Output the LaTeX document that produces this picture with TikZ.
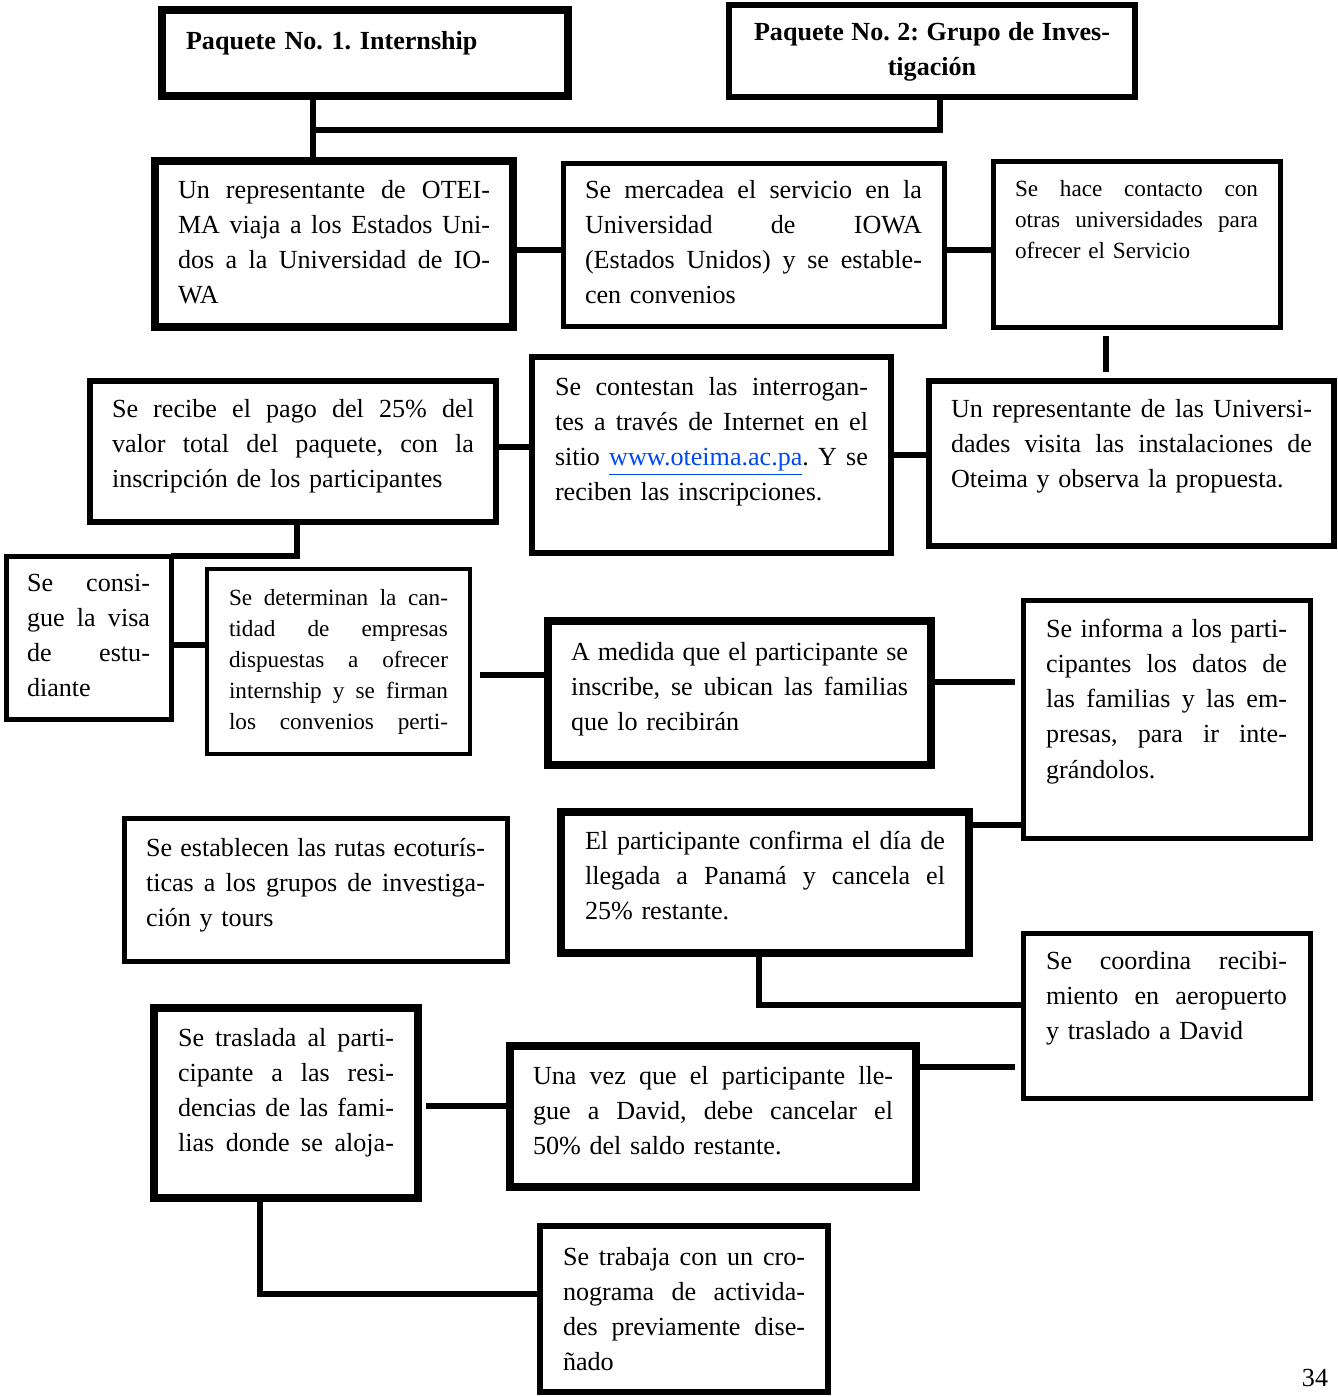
\documentclass[tikz,border=0pt]{standalone}
\usepackage{fontspec}
\setmainfont{Liberation Serif}
\frenchspacing

\definecolor{linkblue}{RGB}{0,72,240}

% text sizes
\newcommand\stepfont{\fontsize{13.05}{17.65}\selectfont}
\newcommand\smallstepfont{\fontsize{11.6}{15.6}\selectfont}

% one line of a box: justified, last, centred
\newcommand\fullln[1]{\hbox to\hsize{\spaceskip=0.25em plus 0.8em minus 0.08em\relax#1}\par}
\newcommand\lastln[1]{\hbox{#1}\par}
\newcommand\centln[1]{\hbox to\hsize{\hfil#1\hfil}\par}

\tikzset{
  stepbox/.style={draw, line width=3pt, anchor=north west, outer sep=0pt,
    inner ysep=0pt, font=\stepfont},
  heavyline/.style={line width=4pt},
  lightline/.style={line width=2.5pt},
  slimline/.style={line width=2pt},
  joinline/.style={line width=3pt},
}

\begin{document}
\begin{tikzpicture}[x=0.5pt, y=-0.5pt]
    \useasboundingbox (0,0) rectangle (1338,1397);

    % The two packages
    \node[stepbox, heavyline, inner xsep=12pt, text width=179pt, text height=19.5pt, text depth=23.5pt, font=\stepfont\bfseries] (pack1) at (162,10)
        {\lastln{Paquete No. 1. Internship}};
    \node[stepbox, inner xsep=12.5pt, text width=178pt, text height=17.5pt, text depth=28.5pt, font=\stepfont\bfseries] (pack2) at (729,5)
        {\fullln{Paquete No. 2: Grupo de Inves-}\centln{tigación}};

    % First row
    \node[stepbox, heavyline, inner xsep=11.5pt, text width=156pt, text height=18.5pt, text depth=64.5pt] (repA) at (155,161)
        {\fullln{Un representante de OTEI-}\fullln{MA viaja a los Estados Uni-}\fullln{dos a la Universidad de IO-}\lastln{WA}};
    \node[stepbox, lightline, inner xsep=11pt, text width=168.5pt, text height=17.5pt, text depth=64pt] (market) at (563,163)
        {\fullln{Se mercadea el servicio en la}\fullln{Universidad de IOWA}\fullln{(Estados Unidos) y se estable-}\lastln{cen convenios}};
    \node[stepbox, lightline, inner xsep=11pt, text width=121.5pt, text height=17.5pt, text depth=65.5pt, font=\smallstepfont] (contact) at (993,161)
        {\fullln{Se hace contacto con}\fullln{otras universidades para}\lastln{ofrecer el Servicio}};

    % Second row
    \node[stepbox, inner xsep=11pt, text width=181pt, text height=18pt, text depth=52.5pt] (payment) at (90,381)
        {\fullln{Se recibe el pago del 25\% del}\fullln{valor total del paquete, con la}\lastln{inscripción de los participantes}};
    \node[stepbox, inner xsep=11.5pt, text width=156.5pt, text height=19pt, text depth=79pt] (answer) at (532,357)
        {\fullln{Se contestan las interrogan-}\fullln{tes a través de Internet en el}\fullln{sitio \textcolor{linkblue}{\underline{www.oteima.ac.pa}}. Y se}\lastln{reciben las inscripciones.}};
    \node[stepbox, inner xsep=11pt, text width=180.5pt, text height=18pt, text depth=64.5pt] (visit) at (929,381)
        {\fullln{Un representante de las Universi-}\fullln{dades visita las instalaciones de}\lastln{Oteima y observa la propuesta.}};

    % Third row
    \node[stepbox, lightline, inner xsep=10.5pt, text width=61.5pt, text height=17.5pt, text depth=64pt] (visa) at (6,556)
        {\fullln{Se consi-}\fullln{gue la visa}\fullln{de estu-}\lastln{diante}};
    \node[stepbox, slimline, inner xsep=11pt, text width=109.5pt, text height=18pt, text depth=74.5pt, font=\smallstepfont] (companies) at (207,569)
        {\fullln{Se determinan la can-}\fullln{tidad de empresas}\fullln{dispuestas a ofrecer}\fullln{internship y se firman}\fullln{los convenios perti-}};
    \node[stepbox, heavyline, inner xsep=11.5pt, text width=168.5pt, text height=19.5pt, text depth=52.5pt] (families) at (548,621)
        {\fullln{A medida que el participante se}\fullln{inscribe, se ubican las familias}\lastln{que lo recibirán}};
    \node[stepbox, lightline, inner xsep=11.5pt, text width=120.5pt, text height=18.5pt, text depth=100.5pt] (inform) at (1023,600)
        {\fullln{Se informa a los parti-}\fullln{cipantes los datos de}\fullln{las familias y las em-}\fullln{presas, para ir inte-}\lastln{grándolos.}};

    % Fourth row
    \node[stepbox, lightline, inner xsep=11pt, text width=169.5pt, text height=19pt, text depth=52.5pt] (routes) at (124,818)
        {\fullln{Se establecen las rutas ecoturís-}\fullln{ticas a los grupos de investiga-}\lastln{ción y tours}};
    \node[stepbox, heavyline, inner xsep=12pt, text width=180pt, text height=18.5pt, text depth=52pt] (confirm) at (561,812)
        {\fullln{El participante confirma el día de}\fullln{llegada a Panamá y cancela el}\lastln{25\% restante.}};
    \node[stepbox, lightline, inner xsep=11.5pt, text width=120.5pt, text height=18pt, text depth=64.5pt] (airport) at (1023,933)
        {\fullln{Se coordina recibi-}\fullln{miento en aeropuerto}\lastln{y traslado a David}};

    % Last rows
    \node[stepbox, heavyline, inner xsep=12pt, text width=108pt, text height=19pt, text depth=76pt] (lodging) at (154,1008)
        {\fullln{Se traslada al parti-}\fullln{cipante a las resi-}\fullln{dencias de las fami-}\fullln{lias donde se aloja-}};
    \node[stepbox, heavyline, inner xsep=11.5pt, text width=180pt, text height=19pt, text depth=51.5pt] (arrival) at (510,1046)
        {\fullln{Una vez que el participante lle-}\fullln{gue a David, debe cancelar el}\lastln{50\% del saldo restante.}};
    \node[stepbox, inner xsep=11.5pt, text width=121pt, text height=19.5pt, text depth=63.5pt] (schedule) at (540,1226)
        {\fullln{Se trabaja con un cro-}\fullln{nograma de activida-}\fullln{des previamente dise-}\lastln{ñado}};

    \node[font=\stepfont] (pagenum) at (1315,1378) {34};

    % Connectors
    \coordinate (split) at (313,130);
    \draw[joinline] (pack1.south -| split) -- (repA.north -| split);
    \draw[joinline] (split) -| (pack2.south -| 940,0);
    \draw[joinline] (repA.east |- 0,250) -- (market.west |- 0,250);
    \draw[joinline] (market.east |- 0,250) -- (contact.west |- 0,250);
    \draw[joinline, shorten <=4.5pt, shorten >=4.5pt] (contact.south -| 1106,0) -- (visit.north -| 1106,0);
    \draw[joinline] (answer.east |- 0,455) -- (visit.west |- 0,455);
    \draw[joinline] (payment.east |- 0,447) -- (answer.west |- 0,447);
    \draw[joinline] (payment.south -| 297,0) |- (visa.north east);
    \draw[joinline] (visa.east |- 0,645) -- (companies.west |- 0,645);
    \draw[joinline, shorten <=5pt] (companies.east |- 0,675) -- (families.west |- 0,675);
    \draw[joinline, shorten >=4pt] (families.east |- 0,682) -- (inform.west |- 0,682);
    \draw[joinline] (confirm.east |- 0,825) -- (inform.west |- 0,825);
    \draw[joinline] (confirm.south -| 759,0) |- (airport.west |- 0,1005);
    \draw[joinline, shorten >=4pt] (arrival.east |- 0,1067) -- (airport.west |- 0,1067);
    \draw[joinline, shorten <=4pt] (lodging.east |- 0,1106) -- (arrival.west |- 0,1106);
    \draw[joinline] (lodging.south -| 260,0) |- (schedule.west |- 0,1294);
\end{tikzpicture}
\end{document}
